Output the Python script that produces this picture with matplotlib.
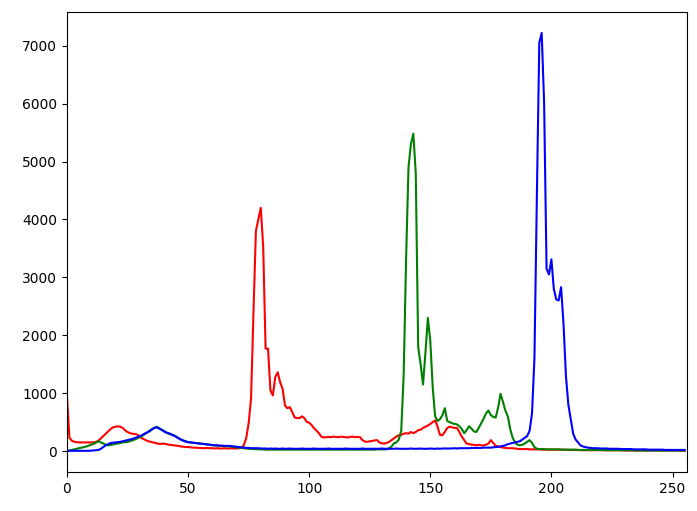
import matplotlib
matplotlib.use("Agg")
import matplotlib.pyplot as plt

# histogram counts per bin (0..255)

red = [950, 230, 180, 160, 155, 150, 150, 150, 150, 150, 150, 150, 160, 180, 220, 260,
       300, 340, 380, 410, 420, 430, 420, 400, 360, 330, 310, 300, 295, 285, 250, 220,
       200, 180, 165, 155, 145, 135, 125, 125, 130, 120, 110, 105, 100, 95, 90, 80,
       75, 70, 70, 65, 60, 60, 55, 55, 50, 50, 55, 50, 50, 45, 50, 45,
       45, 50, 45, 45, 50, 45, 45, 50, 55, 100, 225, 480, 910, 2400, 3800, 4000,
       4200, 3540, 1770, 1770, 1050, 960, 1280, 1360, 1190, 1080, 790, 740, 760, 675, 580, 570,
       570, 600, 570, 505, 490, 450, 395, 355, 310, 250, 235, 240, 245, 240, 250, 245,
       240, 250, 245, 240, 235, 245, 250, 240, 245, 240, 190, 165, 160, 170, 175, 185,
       190, 150, 135, 130, 140, 160, 190, 220, 250, 275, 280, 300, 310, 300, 330, 310,
       330, 360, 370, 400, 420, 440, 470, 500, 530, 420, 280, 275, 330, 400, 420, 410,
       400, 400, 330, 250, 190, 130, 120, 110, 110, 100, 110, 100, 100, 110, 130, 190,
       140, 90, 80, 70, 60, 55, 50, 50, 50, 45, 40, 35, 35, 35, 35, 30,
       30, 30, 30, 30, 25, 25, 25, 25, 25, 25, 25, 25, 25, 25, 25, 20,
       20, 20, 20, 20, 15, 15, 15, 15, 15, 15, 15, 15, 15, 15, 15, 15,
       15, 15, 15, 15, 15, 15, 10, 10, 10, 10, 10, 10, 10, 10, 10, 10,
       10, 10, 10, 10, 10, 10, 10, 10, 10, 10, 10, 10, 10, 5, 5, 5]

green = [0, 10, 20, 30, 40, 50, 60, 70, 80, 95, 110, 125, 145, 170, 150, 130,
         110, 100, 105, 115, 125, 130, 140, 150, 155, 160, 170, 185, 200, 220, 240, 260,
         290, 320, 350, 380, 400, 420, 400, 370, 350, 320, 300, 285, 275, 250, 225, 200,
         185, 170, 155, 150, 145, 140, 135, 130, 125, 120, 115, 110, 100, 100, 95, 90,
         90, 85, 85, 80, 75, 70, 65, 60, 55, 50, 45, 40, 40, 35, 35, 30,
         30, 30, 25, 25, 25, 25, 25, 25, 25, 25, 25, 25, 25, 25, 25, 25,
         25, 25, 25, 25, 25, 25, 25, 25, 25, 25, 25, 25, 25, 25, 25, 25,
         25, 25, 25, 25, 25, 25, 25, 25, 25, 25, 25, 25, 25, 25, 25, 25,
         30, 30, 30, 30, 30, 50, 80, 135, 150, 200, 350, 1300, 3300, 4900, 5300, 5480,
         4800, 1800, 1500, 1150, 1700, 2300, 1900, 1100, 600, 520, 550, 620, 740, 520, 500, 480,
         470, 460, 430, 380, 310, 360, 430, 390, 340, 330, 400, 480, 560, 650, 700, 620,
         590, 580, 750, 990, 850, 700, 600, 380, 230, 150, 110, 100, 110, 130, 160, 190,
         140, 70, 40, 35, 35, 35, 30, 30, 30, 30, 30, 30, 25, 25, 25, 25,
         25, 25, 25, 20, 20, 20, 20, 20, 20, 20, 20, 20, 20, 20, 15, 15,
         15, 15, 15, 15, 15, 15, 15, 15, 15, 15, 10, 10, 10, 10, 10, 10,
         10, 10, 10, 10, 10, 10, 10, 10, 10, 10, 10, 10, 10, 10, 10, 10]

blue = [5, 5, 5, 5, 5, 5, 5, 5, 5, 5, 8, 10, 15, 20, 40, 70,
        100, 120, 140, 145, 150, 155, 160, 170, 180, 190, 200, 210, 225, 240, 260, 275,
        300, 320, 340, 370, 400, 410, 390, 370, 340, 320, 310, 290, 270, 250, 225, 200,
        180, 165, 155, 150, 145, 140, 135, 130, 125, 120, 115, 110, 105, 100, 100, 95,
        95, 90, 90, 90, 85, 80, 75, 70, 65, 60, 55, 55, 50, 50, 50, 50,
        45, 45, 45, 40, 45, 40, 45, 40, 40, 45, 40, 40, 45, 40, 40, 40,
        40, 45, 40, 40, 40, 40, 45, 40, 40, 40, 40, 40, 45, 40, 40, 40,
        40, 40, 40, 45, 40, 40, 40, 40, 40, 40, 45, 40, 40, 40, 40, 40,
        40, 40, 45, 40, 40, 40, 40, 40, 45, 40, 40, 40, 40, 40, 45, 40,
        40, 40, 45, 40, 40, 40, 45, 40, 40, 45, 40, 45, 45, 45, 45, 45,
        50, 45, 50, 50, 50, 50, 50, 55, 55, 55, 55, 55, 60, 60, 60, 60,
        65, 70, 75, 80, 90, 100, 120, 130, 140, 150, 160, 170, 200, 230, 260, 350,
        650, 1600, 4400, 7050, 7220, 6000, 3150, 3050, 3310, 2800, 2620, 2600, 2830, 2200, 1300, 800,
        550, 300, 200, 150, 100, 80, 70, 60, 55, 50, 50, 50, 45, 45, 45, 45,
        40, 40, 40, 40, 40, 35, 35, 35, 35, 35, 30, 30, 30, 30, 30, 30,
        25, 25, 25, 25, 25, 25, 25, 20, 20, 20, 20, 20, 20, 20, 20, 20]

fig = plt.figure(figsize=(6.97, 5.11), dpi=100)
plt.subplots_adjust(left=0.0961, right=0.9857, top=0.9765, bottom=0.0763)

plt.plot(red, color='r')
plt.plot(green, color='g')
plt.plot(blue, color='b')
plt.xlim([0, 256])

plt.savefig("out.png")
